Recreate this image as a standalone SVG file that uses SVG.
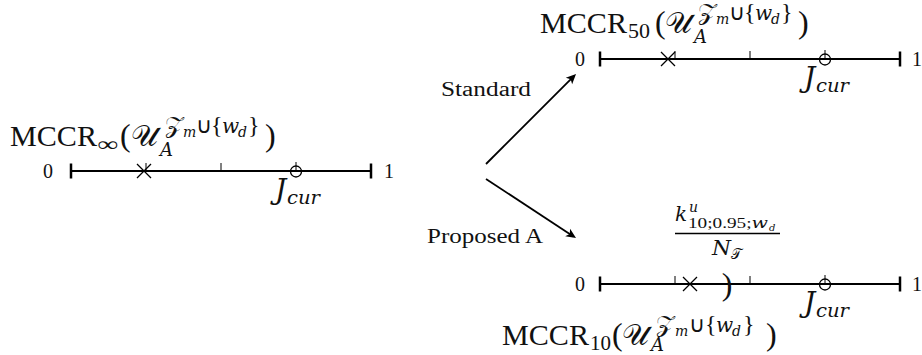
<svg xmlns="http://www.w3.org/2000/svg" width="922" height="355" viewBox="0 0 922 355">
<style>
text{font-family:"Liberation Serif","Times New Roman",serif;fill:#111}
.t32{font-size:32px}
.t30{font-size:30px}
.t28{font-size:28px}
.t24{font-size:24px}
.t22{font-size:22px}
.t20{font-size:20px}
.t18{font-size:18px}
.t14{font-size:14px}
.t10{font-size:10px}
.it{font-family:"DejaVu Serif","Liberation Serif",serif;font-style:italic}
.ln{stroke:#000;stroke-width:2;fill:none}
.bar{stroke:#000;stroke-width:2.5}
.tk{stroke:#000;stroke-width:1;fill:none}
.mk{stroke:#000;stroke-width:1.3;fill:none}
.arr{stroke:#000;stroke-width:1.8;fill:none}
</style>
<defs>
<marker id="ah" markerUnits="userSpaceOnUse" markerWidth="16" markerHeight="12" viewBox="-8 -6 12 12" refX="0" refY="0" orient="auto">
<path d="M3,0 L-7,-4.5 L-4.5,0 L-7,4.5 Z" fill="#000"/>
</marker>
<g id="axis">
<line x1="0" y1="0" x2="300" y2="0" class="ln"/>
<line x1="0" y1="-7.5" x2="0" y2="7.5" class="bar"/>
<line x1="300" y1="-7.5" x2="300" y2="7.5" class="bar"/>
<path d="M75,0V-8M150,0V-8M225,0V-9" class="tk"/>
<circle cx="225" cy="0.5" r="5.5" class="mk"/>
</g>
<path id="cross" d="M-7,-7L7,7M-7,7L7,-7" class="mk"/>
</defs>

<g id="node-inf">
<use href="#axis" transform="translate(71,171)"/>
<use href="#cross" transform="translate(144,171)"/>
<text x="48" y="178" class="t20" text-anchor="middle">0</text>
<text x="389" y="178" class="t20" text-anchor="middle">1</text>
<text x="275" y="199" class="t28 it">J</text>
<text x="287" y="204" class="t18 it" textLength="33" lengthAdjust="spacingAndGlyphs">cur</text>
<text x="10" y="146" class="t30" textLength="87" lengthAdjust="spacingAndGlyphs">MCCR</text>
<text x="97" y="151" class="t20" textLength="21" lengthAdjust="spacingAndGlyphs">∞</text>
<text x="120" y="146" class="t32">(</text>
<text x="131" y="146" class="t30">𝒰</text>
<text x="160" y="156" class="t18 it">A</text>
<text x="165" y="133" class="t24">𝒵</text>
<text x="183" y="137" class="t14 it">m</text>
<text x="196" y="133" class="t22">∪</text>
<text x="211" y="133" class="t24">{</text>
<text x="222" y="133" class="t20 it">w</text>
<text x="238" y="137" class="t14 it">d</text>
<text x="248" y="133" class="t24">}</text>
<text x="265" y="146" class="t32">)</text>
</g>

<g id="node-50">
<use href="#axis" transform="translate(600,59)"/>
<use href="#cross" transform="translate(668,59)"/>
<text x="580" y="66" class="t20" text-anchor="middle">0</text>
<text x="917" y="66" class="t20" text-anchor="middle">1</text>
<text x="804" y="87" class="t28 it">J</text>
<text x="816" y="92" class="t18 it" textLength="33" lengthAdjust="spacingAndGlyphs">cur</text>
<text x="540" y="33" class="t30" textLength="87" lengthAdjust="spacingAndGlyphs">MCCR</text>
<text x="628" y="38" class="t20" textLength="22" lengthAdjust="spacingAndGlyphs">50</text>
<text x="655" y="33" class="t32">(</text>
<text x="665" y="33" class="t30">𝒰</text>
<text x="694" y="43" class="t18 it">A</text>
<text x="698" y="20" class="t24">𝒵</text>
<text x="716" y="24" class="t14 it">m</text>
<text x="729" y="20" class="t22">∪</text>
<text x="744" y="20" class="t24">{</text>
<text x="755" y="20" class="t20 it">w</text>
<text x="771" y="24" class="t14 it">d</text>
<text x="781" y="20" class="t24">}</text>
<text x="798" y="33" class="t32">)</text>
</g>

<g id="node-10">
<use href="#axis" transform="translate(600,284)"/>
<use href="#cross" transform="translate(690,284)"/>
<text x="727" y="295" class="t32" text-anchor="middle">)</text>
<text x="580" y="291" class="t20" text-anchor="middle">0</text>
<text x="917" y="291" class="t20" text-anchor="middle">1</text>
<text x="804" y="312" class="t28 it">J</text>
<text x="816" y="317" class="t18 it" textLength="33" lengthAdjust="spacingAndGlyphs">cur</text>
<text x="675" y="221" class="t20 it">k</text>
<text x="689" y="212" class="t14 it">u</text>
<text x="688" y="228" class="t14" textLength="80" lengthAdjust="spacingAndGlyphs">10;0.95;<tspan class="it">w</tspan></text>
<text x="769" y="231" class="t10 it">d</text>
<line x1="675" y1="233.5" x2="780" y2="233.5" stroke="#000" stroke-width="1.5"/>
<text x="712" y="255" class="t20 it" textLength="19" lengthAdjust="spacingAndGlyphs">N</text>
<text x="731" y="259" class="t14">𝒯</text>
<text x="502" y="345" class="t30" textLength="87" lengthAdjust="spacingAndGlyphs">MCCR</text>
<text x="590" y="350" class="t20" textLength="21" lengthAdjust="spacingAndGlyphs">10</text>
<text x="612" y="345" class="t32">(</text>
<text x="622" y="345" class="t30">𝒰</text>
<text x="651" y="351" class="t18 it">A</text>
<text x="656" y="332" class="t24">𝒵</text>
<text x="675" y="336" class="t14 it">m</text>
<text x="689" y="332" class="t22">∪</text>
<text x="705" y="332" class="t24">{</text>
<text x="716" y="332" class="t20 it">w</text>
<text x="732" y="336" class="t14 it">d</text>
<text x="743" y="332" class="t24">}</text>
<text x="766" y="345" class="t32">)</text>
</g>

<g id="connectors">
<line x1="486" y1="164" x2="573.9" y2="76.1" class="arr" marker-end="url(#ah)"/>
<line x1="486" y1="179" x2="573.5" y2="236.4" class="arr" marker-end="url(#ah)"/>
<text x="441" y="96" class="t20" textLength="90" lengthAdjust="spacingAndGlyphs">Standard</text>
<text x="427" y="243" class="t20" textLength="116" lengthAdjust="spacingAndGlyphs">Proposed A</text>
</g>
</svg>
